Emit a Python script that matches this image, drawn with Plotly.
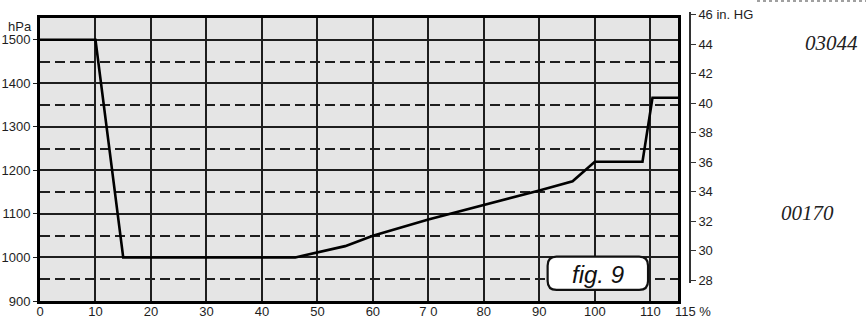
import plotly.graph_objects as go

# ---- data ----
pct = [0, 10, 15, 46, 55, 60, 70, 80, 90, 96, 100, 108.6, 110.4, 115]
hpa = [1500, 1500, 1000, 1000, 1026, 1050, 1087, 1120, 1154, 1175, 1220, 1220, 1367, 1367]

x_tickvals = [0, 10, 20, 30, 40, 50, 60, 70, 80, 90, 100, 110]
x_ticktext = ["0", "10", "20", "30", "40", "50", "60", "7 0", "80", "90", "100", "110"]
x_end_label = "115 %"
y_tickvals = [900, 1000, 1100, 1200, 1300, 1400, 1500]
y2_tickvals = [28, 30, 32, 34, 36, 38, 40, 42, 44, 46]
y2_ticktext = ["28", "30", "32", "34", "36", "38", "40", "42", "44", "46 in. HG"]

HPA_PER_INHG = 33.8639
X_RANGE = [0, 115]
Y_RANGE = [900, 1550]

# ---- layout geometry (pixels) ----
W, H = 866, 324
L, R, T, B = 40, 170, 10, 23
area_w = W - L - R
area_h = H - T - B
plot_right_px = 678
plot_top_px = 18
y2_axis_px = 690
y2_top_px, y2_bot_px = 12, 283

x_dom_end = (plot_right_px - L) / area_w
y_dom_end = (H - B - plot_top_px) / area_h
px_per_hpa = (H - B - plot_top_px) / (Y_RANGE[1] - Y_RANGE[0])
y2_dom = [(H - B - y2_bot_px) / area_h, (H - B - y2_top_px) / area_h]
y2_lo = (Y_RANGE[0] + (H - B - y2_bot_px) / px_per_hpa) / HPA_PER_INHG
y2_hi = (Y_RANGE[0] + (H - B - y2_top_px) / px_per_hpa) / HPA_PER_INHG

INK = "#1e1e1e"
tick_font = dict(family="Liberation Sans, Arial, sans-serif", size=13, color=INK)

fig = go.Figure()
fig.add_trace(go.Scatter(x=pct, y=hpa, mode="lines",
                         line=dict(color="#000000", width=2.6),
                         hoverinfo="skip", showlegend=False))
# invisible trace to carry the right (in. HG) axis
fig.add_trace(go.Scatter(x=[], y=[], xaxis="x2", yaxis="y2", showlegend=False))

# gray panel behind grid
fig.add_shape(type="rect", xref="x", yref="y", x0=X_RANGE[0], x1=X_RANGE[1],
              y0=Y_RANGE[0], y1=Y_RANGE[1], fillcolor="#e5e5e5",
              line=dict(width=0), layer="below")

# rounded "fig. 9" box
bx0, bx1, by0, by1 = 91.5, 109.6, 925.5, 1001.7
rx, ry = 1.6, 20.5
path = (f"M {bx0+rx},{by1} L {bx1-rx},{by1} Q {bx1},{by1} {bx1},{by1-ry} "
        f"L {bx1},{by0+ry} Q {bx1},{by0} {bx1-rx},{by0} L {bx0+rx},{by0} "
        f"Q {bx0},{by0} {bx0},{by0+ry} L {bx0},{by1-ry} Q {bx0},{by1} {bx0+rx},{by1} Z")
fig.add_shape(type="path", path=path, xref="x", yref="y",
              fillcolor="white", line=dict(color="#111111", width=2.2))
fig.add_annotation(x=(bx0 + bx1) / 2, y=(by0 + by1) / 2 - 2, xref="x", yref="y",
                   text="fig. 9", showarrow=False,
                   font=dict(family="Liberation Sans, Arial, sans-serif", size=24,
                             color="#111111", style="italic"))

# top-right faint dotted strip
fig.add_shape(type="line", xref="paper", yref="paper",
              x0=(757 - L) / area_w, x1=(866 - L) / area_w,
              y0=(H - B - 1) / area_h, y1=(H - B - 1) / area_h,
              line=dict(color="#a0a0a0", width=2, dash="dot"))

# labels
fig.add_annotation(x=X_RANGE[1], xref="x", xanchor="left", xshift=-5,
                   y=(H - B - 311) / area_h, yref="paper", yanchor="middle",
                   text=x_end_label, showarrow=False, font=tick_font)
fig.add_annotation(x=(34 - L) / area_w, y=(H - B - 26) / area_h, xref="paper", yref="paper",
                   text="hPa", showarrow=False, xanchor="right", yanchor="middle",
                   font=tick_font)
fig.add_annotation(x=(831 - L) / area_w, y=(H - B - 43) / area_h, xref="paper", yref="paper",
                   text="03044", showarrow=False, xanchor="center", yanchor="middle",
                   font=dict(family="Liberation Serif, Times New Roman, serif", size=21,
                             color="#222222", style="italic"))
fig.add_annotation(x=(807 - L) / area_w, y=(H - B - 213) / area_h, xref="paper", yref="paper",
                   text="00170", showarrow=False, xanchor="center", yanchor="middle",
                   font=dict(family="Liberation Serif, Times New Roman, serif", size=21,
                             color="#222222", style="italic"))

fig.update_layout(
    width=W, height=H,
    margin=dict(l=L, r=R, t=T, b=B, pad=0, autoexpand=False),
    paper_bgcolor="white", plot_bgcolor="rgba(0,0,0,0)",
    showlegend=False,
    xaxis=dict(domain=[0, x_dom_end], range=X_RANGE, anchor="y", automargin=False,
               tickmode="array", tickvals=x_tickvals, ticktext=x_ticktext, tickangle=0,
               ticklabelstandoff=-4,
               showgrid=True, gridcolor=INK, gridwidth=1.7,
               showline=True, linecolor="#000000", linewidth=2.8, mirror=True,
               ticks="", tickfont=tick_font, zeroline=False, fixedrange=True),
    yaxis=dict(domain=[0, y_dom_end], range=Y_RANGE, anchor="x", automargin=False,
               tickmode="array", tickvals=y_tickvals,
               showgrid=True, gridcolor=INK, gridwidth=1.7,
               minor=dict(dtick=50, tick0=950, showgrid=True, gridcolor=INK,
                          gridwidth=1.7, griddash="10px,5px", ticks=""),
               showline=True, linecolor="#000000", linewidth=2.8, mirror=True,
               ticks="outside", ticklen=4, tickwidth=1.4, tickcolor=INK,
               tickfont=tick_font, zeroline=False, fixedrange=True),
    xaxis2=dict(domain=[0.995, 1.0], visible=False, anchor="y2", range=[0, 1],
                automargin=False),
    yaxis2=dict(domain=y2_dom, range=[y2_lo, y2_hi], anchor="free", automargin=False,
                position=(y2_axis_px - L) / area_w, side="right",
                tickmode="array", tickvals=y2_tickvals, ticktext=y2_ticktext,
                showgrid=False, zeroline=False,
                showline=True, linecolor="#333333", linewidth=1.6,
                ticks="outside", ticklen=5, tickwidth=1.4, tickcolor="#333333",
                tickfont=tick_font, fixedrange=True),
)

fig.write_html("out.html", config={"displayModeBar": False},
               post_script="document.body.style.margin='0';document.body.style.overflow='hidden';")
